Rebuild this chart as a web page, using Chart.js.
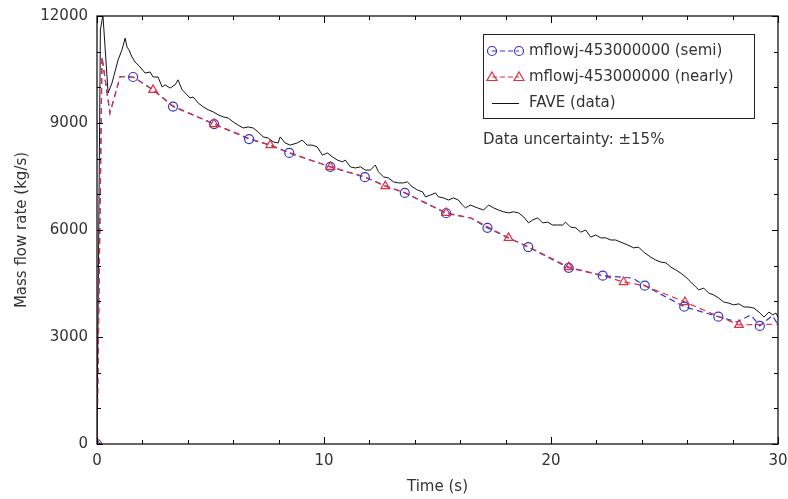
<!DOCTYPE html>
<html lang="en">

<head>
  <meta charset="utf-8">
  <title>Mass flow rate</title>
  <script src="https://cdn.jsdelivr.net/npm/chart.js@4.4.1/dist/chart.umd.min.js"></script>
  <style>
    body { margin: 0; background: #fff; }
  </style>
</head>

<body>
  <canvas id="myChart" width="788" height="499"></canvas>

  <script>
    // FAVE measured data (black line)
    const faveTime = [0, 0.15, 0.26, 0.49, 0.66, 0.93, 1.10, 1.24, 1.32, 1.41, 1.54, 1.68, 1.90, 2.12, 2.34, 2.47, 2.69, 2.87,
      3.00, 3.22, 3.44, 3.57, 3.75, 3.97, 4.10, 4.23, 4.46, 4.68, 4.90, 5.12, 5.34, 5.56, 5.78, 6.00, 6.22, 6.44, 6.66, 6.88,
      7.10, 7.32, 7.54, 7.76, 7.98, 8.07, 8.29, 8.51, 8.82, 9.04, 9.26, 9.48, 9.70, 9.93, 10.15, 10.37, 10.59, 10.81, 10.94,
      11.16, 11.38, 11.60, 11.82, 12.04, 12.26, 12.40, 12.62, 12.84, 13.06, 13.28, 13.50, 13.67, 13.89, 14.12, 14.34, 14.47,
      14.69, 14.91, 15.04, 15.26, 15.48, 15.70, 15.92, 16.10, 16.23, 16.45, 16.76, 17.03, 17.25, 17.47, 17.69, 17.91, 18.13,
      18.35, 18.57, 18.79, 19.01, 19.19, 19.41, 19.63, 19.85, 20.07, 20.29, 20.51, 20.64, 20.86, 21.09, 21.31, 21.53, 21.75,
      21.97, 22.19, 22.41, 22.63, 22.85, 23.07, 23.38, 23.64, 23.86, 24.08, 24.39, 24.61, 24.84, 25.06, 25.28, 25.50, 25.72,
      25.94, 26.16, 26.38, 26.51, 26.73, 26.95, 27.17, 27.39, 27.61, 27.83, 28.05, 28.28, 28.50, 28.72, 28.94, 29.16, 29.38,
      29.60, 29.77, 29.91, 30.00];
    const faveRate = [0, 11610, 12030, 9840, 10120, 10770, 11050, 11380, 11130, 11050, 10850, 10710, 10570, 10400, 10430, 10290, 10290, 10010,
      10070, 9980, 10070, 10210, 9930, 9790, 9700, 9730, 9560, 9450, 9370, 9310, 9230, 9170, 9140, 9030, 8940, 8860, 8890, 8860,
      8750, 8610, 8580, 8470, 8440, 8610, 8440, 8380, 8440, 8520, 8380, 8380, 8330, 8100, 8160, 8050, 7960, 7910, 7960,
      7770, 7740, 7770, 7680, 7680, 7820, 7630, 7490, 7460, 7350, 7320, 7320, 7350, 7210, 7120, 7070, 6930,
      6980, 7040, 6930, 6900, 6840, 6900, 6840, 6700, 6620, 6700, 6620, 6560, 6700, 6620, 6560, 6510, 6480,
      6510, 6480, 6370, 6200, 6280, 6340, 6200, 6220, 6140, 6140, 6140, 6220, 6080, 6060, 5940, 6000, 5800,
      5860, 5780, 5780, 5720, 5720, 5660, 5580, 5500, 5520, 5380, 5240, 5160, 5100, 5080, 4960, 4880, 4790,
      4680, 4540, 4400, 4320, 4370, 4230, 4180, 4090, 3980, 3950, 3900, 3930, 3840, 3840, 3810, 3700, 3560,
      3700, 3620, 3670, 3560];

    // mflowj-453000000 (semi), blue dashed line and its circle markers
    const semiTime = [0, 0.22, 0.57, 1.02, 1.59, 2.47, 3.35, 5.16, 6.70, 7.63, 8.47, 10.28, 11.80, 12.70, 13.56, 15.38, 16.50,
      17.20, 18.13, 19.00, 20.78, 22.28, 23.60, 24.13, 25.87, 27.37, 28.20, 28.80, 29.20, 29.75, 30.00];
    const semiRate = [0, 10850, 9280, 10300, 10290, 9930, 9460, 8970, 8550, 8380, 8160, 7770, 7480, 7240, 7040, 6470, 6330,
      6060, 5780, 5520, 4940, 4720, 4650, 4440, 3850, 3570, 3420, 3620, 3310, 3600, 3350];
    const semiMarkTime = [0, 1.59, 3.35, 5.16, 6.70, 8.47, 10.28, 11.80, 13.56, 15.38, 17.20, 19.00, 20.78, 22.28, 24.13, 25.87, 27.37, 29.20];
    const semiMarkRate = [0, 10290, 9460, 8970, 8550, 8160, 7770, 7480, 7040, 6470, 6060, 5520, 4940, 4720, 4440, 3850, 3570, 3310];

    // mflowj-453000000 (nearly), red dashed line and its triangle markers
    const nearlyTime = [0, 0.22, 0.57, 1.02, 1.59, 2.47, 3.35, 5.16, 6.70, 7.63, 8.47, 10.28, 11.80, 12.70, 13.56, 15.38, 16.50,
      18.13, 19.00, 20.78, 22.28, 23.20, 24.13, 25.90, 27.37, 28.28, 30.00];
    const nearlyRate = [0, 10850, 9280, 10300, 10290, 9930, 9480, 8970, 8570, 8380, 8170, 7770, 7490, 7230, 7050, 6480, 6330,
      5780, 5530, 4960, 4720, 4540, 4440, 3980, 3580, 3340, 3360];
    const nearlyMarkTime = [0, 2.47, 5.16, 7.63, 10.28, 12.70, 15.38, 18.13, 20.78, 23.20, 25.90, 28.28];
    const nearlyMarkRate = [0, 9930, 8970, 8380, 7770, 7230, 6480, 5780, 4960, 4540, 3980, 3340];

    // axis ticks
    const xTickLabels = [0, 10, 20, 30];
    const yTickLabels = [0, 3000, 6000, 9000, 12000];
    const xMinorStep = 2;
    const yMinorStep = 1000;

    const legendLabels = ['mflowj-453000000 (semi)', 'mflowj-453000000 (nearly)', 'FAVE (data)'];
    const noteText = 'Data uncertainty: \u00b115%';

    const BLUE = '#3434c8';
    const RED = '#e03040';
    const BLACK = '#111111';
    const TEXT = '#333333';
    const FONT = 'DejaVu Sans';

    function pts(xs, ys) {
      return xs.map((x, i) => ({ x: x, y: ys[i] }));
    }

    // box around plot + inward ticks on all four sides
    const frameTicks = {
      id: 'frameTicks',
      afterDatasetsDraw(chart) {
        const ctx = chart.ctx;
        const a = chart.chartArea;
        const xs = chart.scales.x, ys = chart.scales.y;
        ctx.save();
        ctx.strokeStyle = '#000';
        ctx.lineWidth = 1.2;
        ctx.strokeRect(a.left, a.top, a.right - a.left, a.bottom - a.top);
        ctx.lineWidth = 1;
        ctx.beginPath();
        for (let t = xs.min; t <= xs.max; t += xMinorStep) {
          const px = Math.round(xs.getPixelForValue(t)) + 0.5;
          const len = xTickLabels.includes(t) ? 7 : 4;
          ctx.moveTo(px, a.bottom); ctx.lineTo(px, a.bottom - len);
          ctx.moveTo(px, a.top); ctx.lineTo(px, a.top + len);
        }
        for (let v = ys.min; v <= ys.max; v += yMinorStep) {
          const py = Math.round(ys.getPixelForValue(v)) + 0.5;
          const len = yTickLabels.includes(v) ? 6 : 4;
          ctx.moveTo(a.left, py); ctx.lineTo(a.left + len, py);
          ctx.moveTo(a.right, py); ctx.lineTo(a.right - len, py);
        }
        ctx.stroke();
        ctx.restore();
      }
    };

    function drawCircle(ctx, x, y, color) {
      ctx.beginPath();
      ctx.arc(x, y, 4.5, 0, Math.PI * 2);
      ctx.strokeStyle = color;
      ctx.lineWidth = 1.2;
      ctx.stroke();
    }

    function drawTriangle(ctx, x, y, color) {
      ctx.beginPath();
      ctx.moveTo(x, y - 5);
      ctx.lineTo(x + 5, y + 3.5);
      ctx.lineTo(x - 5, y + 3.5);
      ctx.closePath();
      ctx.strokeStyle = color;
      ctx.lineWidth = 1.2;
      ctx.stroke();
    }

    // legend box inside the plot, plus the uncertainty note
    const boxLegend = {
      id: 'boxLegend',
      afterDraw(chart) {
        const ctx = chart.ctx;
        const bx = 483, by = 34, bw = 271, bh = 84;
        const rows = [51, 77, 103];
        ctx.save();
        ctx.fillStyle = '#fff';
        ctx.fillRect(bx, by, bw, bh);
        ctx.strokeStyle = '#222';
        ctx.lineWidth = 1;
        ctx.strokeRect(bx + 0.5, by + 0.5, bw, bh);

        const x1 = 492, x2 = 519;
        // semi
        ctx.setLineDash([5, 3]);
        ctx.strokeStyle = BLUE; ctx.lineWidth = 1;
        ctx.beginPath(); ctx.moveTo(x1, rows[0]); ctx.lineTo(x2, rows[0]); ctx.stroke();
        ctx.setLineDash([]);
        drawCircle(ctx, x1, rows[0], BLUE);
        drawCircle(ctx, x2, rows[0], BLUE);
        // nearly
        ctx.setLineDash([5, 3]);
        ctx.strokeStyle = RED; ctx.lineWidth = 1;
        ctx.beginPath(); ctx.moveTo(x1, rows[1]); ctx.lineTo(x2, rows[1]); ctx.stroke();
        ctx.setLineDash([]);
        drawTriangle(ctx, x1, rows[1], RED);
        drawTriangle(ctx, x2, rows[1], RED);
        // FAVE
        ctx.strokeStyle = BLACK; ctx.lineWidth = 1;
        ctx.beginPath(); ctx.moveTo(x1, rows[2] + 0.5); ctx.lineTo(x2, rows[2] + 0.5); ctx.stroke();

        ctx.fillStyle = TEXT;
        ctx.font = '15px "' + FONT + '"';
        ctx.textBaseline = 'middle';
        ctx.textAlign = 'left';
        for (let i = 0; i < legendLabels.length; i++) {
          ctx.fillText(legendLabels[i], 529, rows[i]);
        }
        ctx.fillText(noteText, 483, 140);
        ctx.restore();
      }
    };

    const ctx = document.getElementById('myChart');
    const myChart = new Chart(ctx, {
      type: 'scatter',
      data: {
        datasets: [
          {
            label: 'semi markers',
            data: pts(semiMarkTime, semiMarkRate),
            showLine: false,
            pointStyle: 'circle',
            pointRadius: 4.5,
            borderColor: BLUE,
            backgroundColor: 'rgba(0,0,0,0)',
            pointBorderWidth: 1.2,
            order: 1
          },
          {
            label: 'nearly markers',
            data: pts(nearlyMarkTime, nearlyMarkRate),
            showLine: false,
            pointStyle: 'triangle',
            pointRadius: 5,
            borderColor: RED,
            backgroundColor: 'rgba(0,0,0,0)',
            pointBorderWidth: 1.2,
            order: 0
          },
          {
            label: legendLabels[0],
            data: pts(semiTime, semiRate),
            showLine: true,
            pointRadius: 0,
            borderColor: BLUE,
            borderWidth: 1.2,
            borderDash: [6, 4],
            order: 3
          },
          {
            label: legendLabels[1],
            data: pts(nearlyTime, nearlyRate),
            showLine: true,
            pointRadius: 0,
            borderColor: RED,
            borderWidth: 1.2,
            borderDash: [6, 4],
            order: 2
          },
          {
            label: legendLabels[2],
            data: pts(faveTime, faveRate),
            showLine: true,
            pointRadius: 0,
            borderColor: BLACK,
            borderWidth: 1,
            order: 4
          }
        ]
      },
      options: {
        responsive: false,
        devicePixelRatio: 1,
        animation: false,
        layout: { padding: { top: 16, right: 10, left: 0, bottom: 0 } },
        plugins: {
          legend: { display: false },
          tooltip: { enabled: false }
        },
        scales: {
          x: {
            type: 'linear',
            min: 0,
            max: 30,
            afterFit: (scale) => {
              scale.height = 55;
              scale.paddingLeft = 0;
              scale.paddingRight = 0;
            },
            grid: { display: false, drawTicks: false },
            border: { display: false },
            ticks: {
              stepSize: 10,
              padding: 8,
              color: TEXT,
              font: { family: FONT, size: 15 },
              callback: (v) => String(v)
            },
            title: {
              display: true,
              text: 'Time (s)',
              color: TEXT,
              font: { family: FONT, size: 15 },
              padding: { top: 0, bottom: 3 }
            }
          },
          y: {
            type: 'linear',
            min: 0,
            max: 12000,
            afterFit: (scale) => {
              scale.width = 97;
              scale.paddingTop = 0;
              scale.paddingBottom = 0;
            },
            grid: { display: false, drawTicks: false },
            border: { display: false },
            ticks: {
              stepSize: 3000,
              padding: 9,
              color: TEXT,
              font: { family: FONT, size: 15 },
              callback: (v) => String(v)
            },
            title: {
              display: true,
              text: 'Mass flow rate (kg/s)',
              color: TEXT,
              font: { family: FONT, size: 15 },
              padding: { top: 13, bottom: 0 }
            }
          }
        }
      },
      plugins: [frameTicks, boxLegend]
    });
  </script>
</body>

</html>
